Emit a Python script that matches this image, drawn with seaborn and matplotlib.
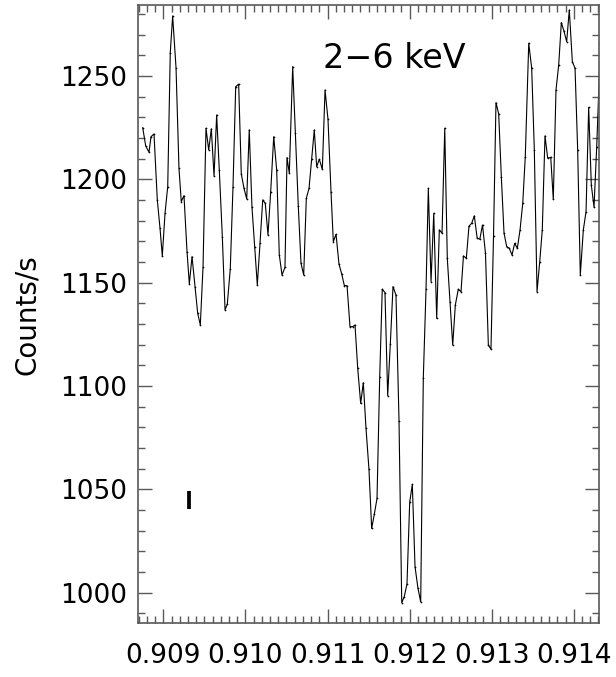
import numpy as np
import seaborn as sns
import matplotlib
matplotlib.use("Agg")
import matplotlib.pyplot as plt
from matplotlib.ticker import MultipleLocator, FormatStrFormatter

# light curve
phase = [0.908749, 0.908786, 0.908826, 0.908850, 0.908887, 0.908927, 0.908960, 0.908988,
         0.909021, 0.909054, 0.909085, 0.909114, 0.909155, 0.909191, 0.909219, 0.909252,
         0.909289, 0.909317, 0.909350, 0.909386, 0.909419, 0.909451, 0.909484, 0.909520,
         0.909553, 0.909585, 0.909618, 0.909650, 0.909682, 0.909719, 0.909752, 0.909780,
         0.909816, 0.909849, 0.909882, 0.909918, 0.909950, 0.909983, 0.910016, 0.910047,
         0.910080, 0.910113, 0.910145, 0.910178, 0.910211, 0.910242, 0.910275, 0.910308,
         0.910345, 0.910381, 0.910413, 0.910446, 0.910482, 0.910507, 0.910535, 0.910576,
         0.910608, 0.910644, 0.910677, 0.910710, 0.910742, 0.910775, 0.910808, 0.910839,
         0.910868, 0.910900, 0.910937, 0.910970, 0.911006, 0.911043, 0.911071, 0.911104,
         0.911140, 0.911173, 0.911205, 0.911238, 0.911274, 0.911307, 0.911335, 0.911368,
         0.911404, 0.911436, 0.911469, 0.911505, 0.911538, 0.911570, 0.911603, 0.911636,
         0.911667, 0.911700, 0.911733, 0.911765, 0.911798, 0.911834, 0.911871, 0.911904,
         0.911935, 0.911968, 0.912001, 0.912033, 0.912066, 0.912102, 0.912135, 0.912167,
         0.912200, 0.912228, 0.912261, 0.912294, 0.912330, 0.912362, 0.912395, 0.912428,
         0.912459, 0.912492, 0.912525, 0.912557, 0.912593, 0.912626, 0.912656, 0.912691,
         0.912723, 0.912756, 0.912788, 0.912823, 0.912855, 0.912888, 0.912924, 0.912959,
         0.912991, 0.913022, 0.913052, 0.913085, 0.913117, 0.913150, 0.913183, 0.913214,
         0.913247, 0.913280, 0.913312, 0.913345, 0.913378, 0.913409, 0.913451, 0.913487,
         0.913519, 0.913552, 0.913585, 0.913616, 0.913649, 0.913682, 0.913719, 0.913750,
         0.913783, 0.913816, 0.913848, 0.913881, 0.913913, 0.913945, 0.913982, 0.914015,
         0.914047, 0.914079, 0.914116, 0.914149, 0.914181, 0.914213, 0.914246, 0.914279,
         0.914325]

rate = [1225.0, 1216.1, 1213.1, 1220.6, 1221.9, 1190.0, 1176.3, 1162.9,
        1183.5, 1196.5, 1261.3, 1279.0, 1254.0, 1205.3, 1189.2, 1192.1,
        1165.0, 1149.4, 1162.6, 1148.1, 1135.2, 1129.5, 1157.7, 1224.7,
        1214.2, 1224.4, 1201.6, 1231.1, 1204.5, 1172.3, 1136.8, 1139.7,
        1156.8, 1196.5, 1244.8, 1246.0, 1202.6, 1195.6, 1190.5, 1223.9,
        1186.5, 1167.1, 1148.9, 1169.0, 1190.0, 1188.4, 1173.1, 1194.0,
        1220.6, 1204.5, 1163.4, 1153.7, 1157.4, 1210.5, 1202.9, 1254.5,
        1222.6, 1187.3, 1159.4, 1153.7, 1190.8, 1195.6, 1210.0, 1223.9,
        1206.1, 1209.7, 1204.8, 1243.2, 1229.0, 1193.7, 1169.8, 1173.4,
        1158.9, 1154.2, 1148.6, 1148.5, 1128.7, 1128.7, 1129.5, 1108.5,
        1091.6, 1101.6, 1079.5, 1059.7, 1031.1, 1037.9, 1045.6, 1104.5,
        1146.8, 1145.2, 1095.3, 1120.3, 1148.1, 1144.0, 1083.2, 995.2,
        998.1, 1004.2, 1043.7, 1052.4, 1012.6, 1002.1, 995.6, 1104.0,
        1146.8, 1195.6, 1150.5, 1183.5, 1132.7, 1175.5, 1173.9, 1224.7,
        1161.8, 1140.8, 1119.8, 1139.2, 1146.8, 1145.6, 1162.9, 1161.8,
        1177.3, 1178.7, 1182.3, 1171.5, 1171.0, 1177.9, 1164.2, 1119.9,
        1117.8, 1172.6, 1237.1, 1231.6, 1201.3, 1173.9, 1167.4, 1166.6,
        1163.4, 1169.0, 1166.6, 1175.5, 1188.4, 1211.0, 1265.8, 1253.7,
        1214.2, 1145.6, 1160.2, 1175.5, 1221.0, 1210.2, 1210.6, 1190.3,
        1243.2, 1255.3, 1275.8, 1271.5, 1266.6, 1281.9, 1256.9, 1253.7,
        1214.2, 1153.7, 1175.5, 1184.4, 1234.8, 1197.3, 1186.5, 1215.8,
        1266.0]

# typical error bar
err_x = [0.909313]
err_y = [1044.9]
err_size = [4.4]

sns.set_style("ticks")
plt.rcParams['font.family'] = ['DejaVu Sans']
plt.rcParams['text.color'] = 'black'
plt.rcParams['axes.labelcolor'] = 'black'
plt.rcParams['xtick.labelcolor'] = 'black'
plt.rcParams['ytick.labelcolor'] = 'black'

fig = plt.figure(figsize=(6.16, 6.77), dpi=100)
ax = fig.add_axes([0.2245, 0.0793, 0.7484, 0.9133])

sns.lineplot(x=phase, y=rate, ax=ax, color='black', lw=0.8,
             marker='.', markersize=2.5, markeredgewidth=0)
ax.errorbar(err_x, err_y, yerr=err_size, fmt='none', ecolor='black',
            elinewidth=2.7, capsize=0)

ax.set_xlim(0.9086955, 0.9143105)
ax.set_ylim(985.2, 1284.3)

ax.xaxis.set_major_locator(MultipleLocator(0.001))
ax.xaxis.set_minor_locator(MultipleLocator(0.0001))
ax.xaxis.set_major_formatter(FormatStrFormatter('%.3f'))
ax.yaxis.set_major_locator(MultipleLocator(50))
ax.yaxis.set_minor_locator(MultipleLocator(10))

ax.tick_params(which='both', direction='in', top=True, right=True,
               color='0.35', labelsize=19, labelcolor='black')
ax.tick_params(which='major', length=10, width=1)
ax.tick_params(which='minor', length=5, width=1)
ax.tick_params(axis='x', pad=14)
ax.tick_params(axis='y', pad=8)
for s in ax.spines.values():
    s.set_color('0.35')
    s.set_linewidth(1.2)

ax.set_xlabel('')
ax.set_ylabel('Counts/s', fontsize=20, labelpad=14, color='black')
ax.text(0.4007, 0.898, '2\u22126 keV', transform=ax.transAxes,
        fontsize=24, ha='left', va='baseline', color='black')

fig.savefig('out.png', dpi=100)
